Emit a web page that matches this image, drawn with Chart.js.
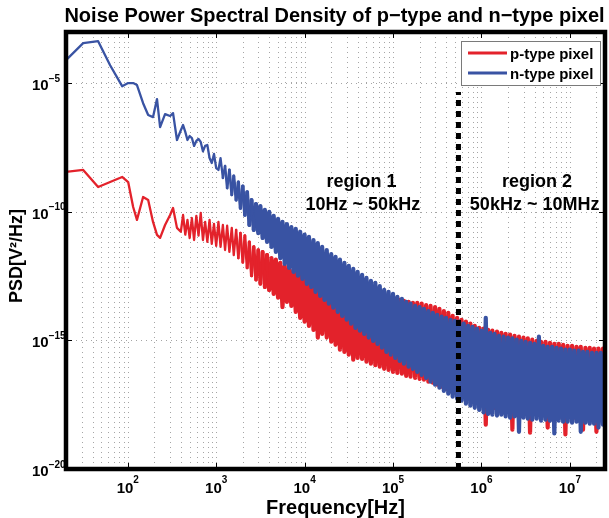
<!DOCTYPE html>
<html><head><meta charset="utf-8">
<script src="https://cdn.jsdelivr.net/npm/chart.js@4.4.0/dist/chart.umd.min.js"></script>
<style>html,body{margin:0;padding:0;background:#fff;overflow:hidden}canvas{display:block}</style>
</head><body>
<canvas id="c" width="609" height="518"></canvas>
<script>
// ---------------- data ----------------
const freq = [
20, 31.3, 46.2, 63.1, 86.3, 101, 115, 127, 149, 170, 193, 214, 232, 264, 301, 325, 360,
398, 422, 447, 473, 501, 531, 562, 596, 631, 668, 708, 750, 794, 841, 891, 944,
1000, 1060, 1120, 1190, 1260, 1330, 1410, 1500, 1580, 1680, 1780, 1880, 2000, 2110, 2240, 2370, 2510, 2660, 2820, 2990,
3160, 3350, 3550, 3760, 3980, 4220, 4470, 4730, 5010, 5310, 5620, 5960, 6310, 6680, 7080, 7500, 7940, 8410, 8910, 9440,
1.00e4, 1.06e4, 1.12e4, 1.19e4, 1.26e4, 1.33e4, 1.41e4, 1.50e4, 1.58e4, 1.68e4, 1.78e4, 1.88e4, 2.00e4, 2.11e4, 2.24e4, 2.37e4, 2.51e4, 2.66e4, 2.82e4, 2.99e4,
3.16e4, 3.35e4, 3.55e4, 3.76e4, 3.98e4, 4.22e4, 4.47e4, 4.73e4, 5.01e4, 5.31e4, 5.62e4, 5.96e4, 6.31e4, 6.68e4, 7.08e4, 7.50e4, 7.94e4, 8.41e4, 8.91e4, 9.44e4,
1.00e5, 1.06e5, 1.12e5, 1.19e5, 1.26e5, 1.33e5, 1.41e5, 1.50e5, 1.58e5, 1.68e5, 1.78e5, 1.88e5, 2.00e5, 2.11e5, 2.24e5, 2.37e5, 2.51e5, 2.66e5, 2.82e5, 2.99e5,
3.16e5, 3.35e5, 3.55e5, 3.76e5, 3.98e5, 4.22e5, 4.47e5, 4.73e5, 5.01e5, 5.31e5, 5.62e5, 5.96e5, 6.31e5, 6.68e5, 7.08e5, 7.50e5, 7.94e5, 8.41e5, 8.91e5, 9.44e5,
1.00e6, 1.06e6, 1.12e6, 1.19e6, 1.26e6, 1.33e6, 1.41e6, 1.50e6, 1.58e6, 1.68e6, 1.78e6, 1.88e6, 2.00e6, 2.11e6, 2.24e6, 2.37e6, 2.51e6, 2.66e6, 2.82e6, 2.99e6,
3.16e6, 3.35e6, 3.55e6, 3.76e6, 3.98e6, 4.22e6, 4.47e6, 4.73e6, 5.01e6, 5.31e6, 5.62e6, 5.96e6, 6.31e6, 6.68e6, 7.08e6, 7.50e6, 7.94e6, 8.41e6, 8.91e6, 9.44e6,
1.00e7, 1.06e7, 1.12e7, 1.19e7, 1.26e7, 1.33e7, 1.41e7, 1.50e7, 1.58e7, 1.68e7, 1.78e7, 1.88e7, 2.00e7, 2.11e7, 2.24e7, 2.37e7, 2.51e7
];

const psdP = [
3.6e-9, 4.3e-9, 9.3e-10, 1.46e-9, 2.3e-9, 1.46e-9, 1.56e-10, 4.9e-11, 3.8e-10, 2.9e-10, 4.1e-11, 1.28e-11, 9.8e-12, 3.1e-11, 7.6e-11, 1.43e-10, 2.4e-11,
1.7e-11, 7.6e-11, 1.3e-11, 4.9e-11, 9.7e-12, 5.8e-11, 8.1e-12, 7.0e-11, 1.2e-11, 9.1e-11,
8.1e-12, 4.1e-11, 6.8e-12, 4.9e-11, 5.7e-12, 3.4e-11, 4.8e-12, 4.1e-11, 4.4e-12, 3.1e-11,
3.3e-12, 2.9e-11, 2.8e-12, 2.4e-11, 2.1e-12, 2.0e-11, 1.6e-12, 1.5e-11, 1.1e-12, 1.2e-11,
6.7e-13, 6.8e-12, 3.3e-13, 4.4e-12, 2.3e-13, 3.3e-12, 1.6e-13, 2.8e-12, 1.2e-13, 2.1e-12,
9.3e-14, 1.6e-12, 6.5e-14, 1.4e-12, 4.6e-14, 1.04e-12, 2.0e-14, 8.0e-13, 3.2e-14, 6.7e-13,
2.2e-14, 5.6e-13, 1.3e-14, 4.7e-13, 7.6e-15, 3.9e-13, 5.4e-15, 3.6e-13, 3.7e-15, 3.3e-13,
2.6e-15, 2.7e-13, 1.3e-15, 2.3e-13, 1.8e-15, 2.1e-13, 1.3e-15, 1.75e-13, 8.9e-16, 1.6e-13,
6.8e-16, 1.45e-13, 4.4e-16, 1.2e-13, 3.6e-16, 1.1e-13, 2.8e-16, 1.0e-13, 1.8e-16, 9.3e-14,
2.1e-16, 8.5e-14, 1.9e-16, 7.8e-14, 1.5e-16, 7.1e-14, 1.25e-16, 6.5e-14, 1.1e-16, 5.9e-14,
9.5e-17, 5.4e-14, 7.9e-17, 5.0e-14, 7.2e-17, 4.6e-14, 6.0e-17, 4.2e-14, 5.5e-17, 3.8e-14,
5.1e-17, 3.5e-14, 4.2e-17, 3.2e-14, 3.9e-17, 2.9e-14, 3.5e-17, 2.9e-14, 3.2e-17, 2.7e-14,
3.0e-17, 2.4e-14, 2.5e-17, 2.2e-14, 2.3e-17, 2.0e-14, 1.9e-17, 1.7e-14, 1.6e-17, 1.4e-14,
1.3e-17, 1.2e-14, 1.1e-17, 9.1e-15, 9.3e-18, 7.6e-15, 7.8e-18, 6.4e-15, 6.5e-18, 5.4e-15,
5.4e-18, 4.5e-15, 4.6e-18, 3.7e-15, 3.8e-18, 3.1e-15, 3.2e-18, 2.9e-15, 5.3e-19, 2.6e-15,
2.7e-18, 2.4e-15, 2.4e-18, 2.2e-15, 2.2e-18, 2.0e-15, 2.0e-18, 1.8e-15, 1.8e-18, 1.7e-15,
3.4e-19, 1.5e-15, 1.7e-18, 1.4e-15, 1.6e-18, 1.3e-15, 1.6e-18, 1.2e-15, 2.6e-19, 1.07e-15,
1.4e-18, 9.7e-16, 1.3e-18, 8.9e-16, 1.3e-18, 8.9e-16, 4.1e-19, 8.1e-16, 1.2e-18, 7.4e-16,
1.2e-18, 7.4e-16, 1.1e-18, 6.8e-16, 2.2e-19, 6.2e-16, 1.1e-18, 6.2e-16, 1.0e-18, 5.7e-16,
1.0e-18, 5.7e-16, 3.4e-19, 5.2e-16, 1.0e-18, 5.2e-16, 9.0e-19, 4.8e-16, 2.8e-19, 4.8e-16,
9.0e-19, 4.8e-16, 8.3e-19
];

const psdN = [
8.0e-5, 3.7e-4, 4.4e-4, 5.1e-5, 7.8e-6, 1.03e-5, 1.03e-5, 8.6e-6, 1.7e-6, 5.9e-7, 4.9e-7, 2.45e-6, 2.0e-7, 6.4e-7, 5.4e-7, 7.0e-7, 6.3e-8,
1.5e-7, 2.4e-7, 1.3e-7, 6.3e-8, 9.0e-8, 7.5e-8, 3.7e-8, 5.8e-8, 6.9e-8, 5.3e-8,
2.3e-8, 3.7e-8, 4.0e-8, 1.25e-8, 8.0e-9, 1.8e-8, 5.1e-9, 4.3e-9, 1.25e-8, 2.1e-9,
6.1e-9, 8.5e-10, 4.3e-9, 4.6e-10, 2.5e-9, 2.9e-10, 1.45e-9, 1.4e-10, 1.0e-9, 7.6e-11,
5.9e-10, 3.1e-11, 2.9e-10, 2.0e-11, 2.0e-10, 1.5e-11, 1.7e-10, 9.7e-12, 1.2e-10, 6.8e-12,
1.0e-10, 4.4e-12, 7.0e-11, 2.8e-12, 5.4e-11, 1.6e-12, 4.1e-11, 9.6e-13, 3.4e-11, 6.7e-13,
2.6e-11, 4.7e-13, 2.2e-11, 3.3e-13, 1.7e-11, 2.5e-13, 1.3e-11, 1.6e-13, 1.07e-11, 1.2e-13,
8.1e-12, 7.8e-14, 6.2e-12, 5.4e-14, 4.4e-12, 3.8e-14, 3.3e-12, 2.7e-14, 2.3e-12, 1.9e-14,
1.8e-12, 1.3e-14, 1.4e-12, 9.1e-15, 1.04e-12, 6.4e-15, 8.0e-13, 4.5e-15, 6.1e-13, 3.1e-15,
4.7e-13, 2.4e-15, 3.6e-13, 1.8e-15, 2.7e-13, 1.3e-15, 2.1e-13, 9.7e-16, 1.75e-13, 7.4e-16,
1.3e-13, 5.2e-16, 9.3e-14, 3.6e-16, 7.8e-14, 2.8e-16, 6.5e-14, 2.1e-16, 5.0e-14, 1.6e-16,
4.2e-14, 1.25e-16, 3.2e-14, 9.5e-17, 2.7e-14, 7.9e-17, 2.2e-14, 6.0e-17, 2.0e-14, 4.6e-17,
1.7e-14, 3.5e-17, 1.4e-14, 2.5e-17, 1.2e-14, 1.9e-17, 1.0e-14, 1.45e-17, 8.4e-15, 1.1e-17,
7.6e-15, 8.5e-18, 6.4e-15, 6.5e-18, 5.8e-15, 5.4e-18, 5.4e-15, 4.6e-18, 4.5e-15, 3.5e-18,
3.7e-15, 2.9e-18, 3.4e-15, 2.4e-18, 2.9e-15, 2.0e-18, 2.4e-15, 1.6e-18, 7.6e-15, 1.4e-18,
2.0e-15, 1.3e-18, 1.8e-15, 1.2e-18, 1.5e-15, 1.3e-18, 1.4e-15, 1.1e-18, 1.3e-15, 1.0e-18,
1.2e-15, 1.1e-18, 1.07e-15, 2.8e-19, 9.7e-16, 1.0e-18, 8.9e-16, 9.0e-19, 8.1e-16, 8.3e-19,
7.4e-16, 9.0e-19, 1.4e-15, 7.6e-19, 6.2e-16, 8.3e-19, 5.7e-16, 7.6e-19, 5.7e-16, 2.4e-19,
5.2e-16, 7.6e-19, 4.8e-16, 6.9e-19, 4.4e-16, 6.9e-19, 4.4e-16, 6.3e-19, 4.0e-16, 6.9e-19,
4.0e-16, 2.8e-19, 3.6e-16, 6.3e-19, 3.6e-16, 5.8e-19, 3.3e-16, 5.8e-19, 3.3e-16, 4.1e-19,
3.3e-16, 5.3e-19, 3.3e-16
];

const seriesLabels = ['p-type pixel', 'n-type pixel'];
const xTickValues = [1e2, 1e3, 1e4, 1e5, 1e6, 1e7];
const xTickExp = ['2', '3', '4', '5', '6', '7'];
const yTickValues = [1e-5, 1e-10, 1e-15, 1e-20];
const yTickExp = ['\u22125', '\u221210', '\u221215', '\u221220'];
const boundaryFreq = [5.5e5, 5.5e5];
const boundaryPsd = [1e-20, 4.6e-6];
const regionText = ['region 1', '10Hz ~ 50kHz', 'region 2', '50kHz ~ 10MHz'];
const regionFreq = [4.4e4, 4.56e4, 4.25e6, 4.0e6];
const regionPsd = [9.3e-10, 1.23e-10, 9.3e-10, 1.23e-10];
const titleText = 'Noise Power Spectral Density of p\u2212type and n\u2212type pixel';
const xTitle = 'Frequency[Hz]';
const yTitle = 'PSD[V\u00B2/Hz]';

// ---------------- drawing ----------------
const RED = '#e3222b', BLUE = '#3953a3';
const FONT = '"Liberation Sans", Arial, Helvetica, sans-serif';
const SPARSE = 17;   // number of low-frequency points before the dense FFT band

const xGrid = [];
for (let d = 1; d <= 7; d++) for (let m = 1; m <= 9; m++) {
  const v = m * Math.pow(10, d);
  if (v > 20 && v < 2.5e7) xGrid.push(v);
}

// stroke width of a band segment: thin for the sparse part, thick where the FFT bins are dense
function bandWidth(i, start, full) {
  const k = i - SPARSE;
  if (k < start) return 2.3;
  if (k >= full) return 4.2;
  return 2.3 + 1.9 * (k - start) / (full - start);
}

function supLabel(ctx, base, exp, x, baseY, expY, bs, es, center) {
  ctx.font = 'bold ' + bs + 'px ' + FONT;
  const wb = ctx.measureText(base).width;
  ctx.font = 'bold ' + es + 'px ' + FONT;
  const we = ctx.measureText(exp).width;
  const x0 = center ? x - (wb + we) / 2 : x;
  ctx.textAlign = 'left'; ctx.textBaseline = 'alphabetic';
  ctx.font = 'bold ' + bs + 'px ' + FONT; ctx.fillText(base, x0, baseY);
  ctx.font = 'bold ' + es + 'px ' + FONT; ctx.fillText(exp, x0 + wb, expY);
}

const decor = {
  id: 'decor',
  beforeDatasetsDraw(chart) {
    const { ctx, chartArea: a, scales: { x, y } } = chart;
    ctx.save();
    ctx.strokeStyle = '#a5a5a5'; ctx.lineWidth = 1; ctx.setLineDash([1, 4]);
    for (const v of xGrid) {
      const px = Math.round(x.getPixelForValue(v)) + 0.5;
      ctx.beginPath(); ctx.moveTo(px, a.top); ctx.lineTo(px, a.bottom); ctx.stroke();
    }
    for (const v of yTickValues) {
      const py = Math.round(y.getPixelForValue(v)) + 0.5;
      ctx.beginPath(); ctx.moveTo(a.left, py); ctx.lineTo(a.right, py); ctx.stroke();
    }
    ctx.restore();
  },
  afterDatasetsDraw(chart) {
    const { ctx, chartArea: a, scales: { x, y } } = chart;
    ctx.save();
    ctx.fillStyle = '#000';
    ctx.font = 'bold 18px ' + FONT; ctx.textAlign = 'center'; ctx.textBaseline = 'alphabetic';
    regionText.forEach((t, i) => ctx.fillText(t, x.getPixelForValue(regionFreq[i]), y.getPixelForValue(regionPsd[i])));
    ctx.strokeStyle = '#000'; ctx.lineWidth = 1;
    for (const v of xTickValues) {
      const px = Math.round(x.getPixelForValue(v)) + 0.5;
      ctx.beginPath(); ctx.moveTo(px, a.bottom); ctx.lineTo(px, a.bottom - 6);
      ctx.moveTo(px, a.top); ctx.lineTo(px, a.top + 6); ctx.stroke();
    }
    for (const v of yTickValues) {
      const py = Math.round(y.getPixelForValue(v)) + 0.5;
      ctx.beginPath(); ctx.moveTo(a.left, py); ctx.lineTo(a.left + 6, py);
      ctx.moveTo(a.right, py); ctx.lineTo(a.right - 6, py); ctx.stroke();
    }
    ctx.lineWidth = 4.5; ctx.strokeStyle = '#000';
    ctx.strokeRect(a.left, a.top, a.right - a.left, a.bottom - a.top);
    ctx.fillStyle = '#000';
    xTickValues.forEach((v, i) => {
      supLabel(ctx, '10', xTickExp[i], x.getPixelForValue(v), a.bottom + 24, a.bottom + 14, 15, 10, true);
    });
    yTickValues.forEach((v, i) => {
      const py = y.getPixelForValue(v);
      supLabel(ctx, '10', yTickExp[i], a.left - 34, py + 7, py - 1.5, 15, 10, false);
    });
    const cx = (a.left + a.right) / 2;
    ctx.textAlign = 'center'; ctx.textBaseline = 'alphabetic';
    ctx.font = 'bold 20px ' + FONT;
    ctx.fillText(titleText, cx - 1, 22);
    ctx.fillText(xTitle, cx, 514);
    ctx.save();
    ctx.translate(22, 256); ctx.rotate(-Math.PI / 2);
    ctx.font = 'bold 18px ' + FONT;
    ctx.fillText(yTitle, 0, 0);
    ctx.restore();
    const lx = a.right - 144, ly = a.top + 9, lw = 139, lh = 44;
    ctx.fillStyle = '#fff'; ctx.fillRect(lx, ly, lw, lh);
    ctx.strokeStyle = '#7a7a7a'; ctx.lineWidth = 1;
    ctx.strokeRect(lx + 0.5, ly + 0.5, lw, lh);
    const cols = [RED, BLUE];
    seriesLabels.forEach((t, i) => {
      const yy = ly + 12 + i * 20;
      ctx.strokeStyle = cols[i]; ctx.lineWidth = 3;
      ctx.beginPath(); ctx.moveTo(lx + 7, yy); ctx.lineTo(lx + 46, yy); ctx.stroke();
      ctx.fillStyle = '#000'; ctx.font = 'bold 15px ' + FONT; ctx.textAlign = 'left';
      ctx.fillText(t, lx + 49, yy + 5.5);
    });
    ctx.restore();
  }
};

const toPts = (xs, ys) => xs.map((f, i) => ({ x: f, y: ys[i] }));

new Chart(document.getElementById('c').getContext('2d'), {
  type: 'line',
  data: {
    datasets: [
      { label: seriesLabels[0], data: toPts(freq, psdP), borderColor: RED, borderWidth: 2.3, pointRadius: 0, fill: false, tension: 0,
        borderJoinStyle: 'round', borderCapStyle: 'round', order: 2,
        segment: { borderWidth: c => bandWidth(c.p0DataIndex, 24, 40) } },
      { label: seriesLabels[1], data: toPts(freq, psdN), borderColor: BLUE, borderWidth: 2.3, pointRadius: 0, fill: false, tension: 0,
        borderJoinStyle: 'round', borderCapStyle: 'round', order: 1,
        segment: { borderWidth: c => bandWidth(c.p0DataIndex, 18, 34) } },
      { label: 'boundary', data: toPts(boundaryFreq, boundaryPsd), borderColor: '#000', borderWidth: 5, borderDash: [6, 5], pointRadius: 0, fill: false, order: 0 }
    ]
  },
  options: {
    responsive: false, animation: false, devicePixelRatio: 1,
    layout: { padding: { left: 66, top: 32, right: 4, bottom: 49 } },
    plugins: { legend: { display: false }, tooltip: { enabled: false }, title: { display: false } },
    scales: {
      x: { type: 'logarithmic', min: 20, max: 2.5e7, ticks: { display: false }, grid: { display: false }, border: { display: false }, afterFit(s) { s.height = 0; } },
      y: { type: 'logarithmic', min: 1e-20, max: 1e-3, ticks: { display: false }, grid: { display: false }, border: { display: false }, afterFit(s) { s.width = 0; } }
    }
  },
  plugins: [decor]
});
</script>
</body></html>
